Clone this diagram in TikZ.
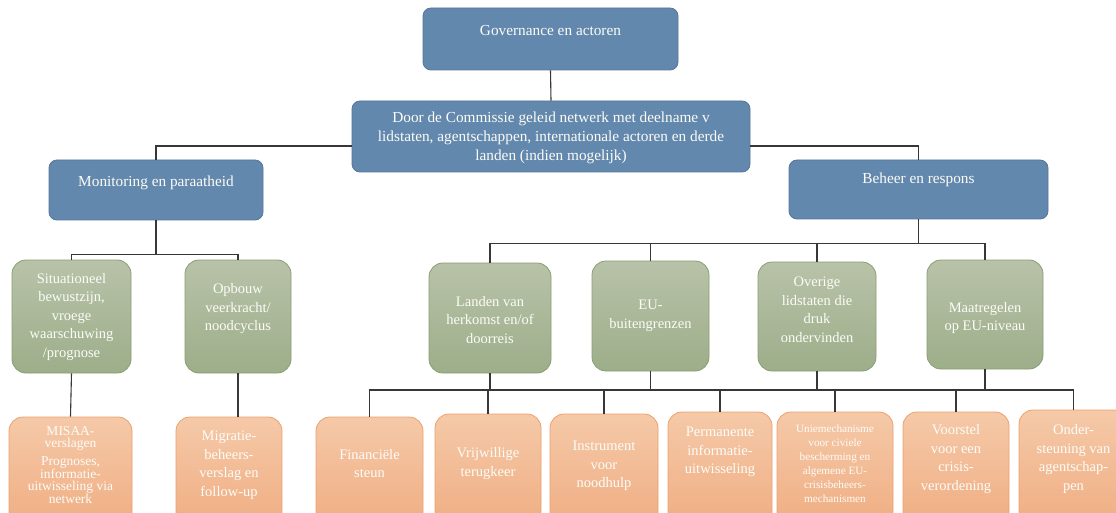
\documentclass[tikz,border=0pt]{standalone}
\usepackage{fontspec}
\setmainfont{Liberation Serif}
\definecolor{blueF}{RGB}{99,136,173}
\definecolor{blueB}{RGB}{86,118,152}
\definecolor{greenT}{RGB}{184,194,168}
\definecolor{greenBo}{RGB}{157,174,138}
\definecolor{greenB}{RGB}{138,158,116}
\definecolor{orT}{RGB}{245,201,168}
\definecolor{orBo}{RGB}{239,171,127}
\definecolor{orB}{RGB}{238,160,108}
\definecolor{lineC}{RGB}{55,55,55}
\definecolor{txtC}{RGB}{252,252,248}
\begin{document}
\begin{tikzpicture}[x=1pt,y=-1pt,
  bluebox/.style={draw=blueB, fill=blueF, rounded corners=8pt, line width=0.8pt, inner sep=0pt},
  greenbox/.style={draw=greenB, top color=greenT, bottom color=greenBo, rounded corners=14pt, line width=0.8pt, inner sep=0pt},
  orbox/.style={draw=orB, top color=orT, bottom color=orBo, rounded corners=14pt, line width=0.8pt, inner sep=0pt},
  txt/.style={text=txtC, align=center, font=\fontsize{14.5}{18.5}\selectfont, inner sep=0pt},
  bluetxt/.style={text=txtC, align=center, font=\fontsize{15.3}{19}\selectfont, inner sep=0pt},
  smalltxt/.style={text=txtC, align=center, font=\fontsize{11.2}{14}\selectfont, inner sep=0pt},
  tighttxt/.style={text=txtC, align=center, font=\fontsize{13.5}{12}\selectfont, inner sep=0pt},
  conn/.style={draw=lineC, line width=1.1pt}]
\path[use as bounding box, clip] (0,0) rectangle (1116,513);
\fill[white] (0,0) rectangle (1116,513);

% level 0/1 blue boxes
\node[bluebox, minimum width=255pt, minimum height=62pt] (gov) at (550.5,39) {};
\node[bluebox, minimum width=398pt, minimum height=71pt] (net) at (551,136.5) {};
\node[bluebox, minimum width=214pt, minimum height=60pt] (mon) at (156,190) {};
\node[bluebox, minimum width=259pt, minimum height=59pt] (beh) at (918.5,189.5) {};

\node[bluetxt] (govt) at (550.5,31) {Governance en actoren};
\node[bluetxt] (nett) at (551,138) {Door de Commissie geleid netwerk met deelname v\\lidstaten, agentschappen, internationale actoren en derde\\landen (indien mogelijk)};
\node[bluetxt] (mont) at (156,183) {Monitoring en paraatheid};
\node[bluetxt] (beht) at (918.5,180) {Beheer en respons};

% level 2 green boxes
\node[greenbox, minimum width=119pt, minimum height=113pt] (sit) at (71.5,316.5) {};
\node[greenbox, minimum width=106pt, minimum height=113pt] (opb) at (238,316.5) {};
\node[greenbox, minimum width=122pt, minimum height=110pt] (lan) at (490,318) {};
\node[greenbox, minimum width=117pt, minimum height=110pt] (eu) at (650.5,316) {};
\node[greenbox, minimum width=118pt, minimum height=109pt] (ove) at (817,316.5) {};
\node[greenbox, minimum width=116pt, minimum height=109pt] (maa) at (985,314.5) {};

\node[txt] (sitt) at (71.5,317) {Situationeel\\bewustzijn,\\vroege\\waarschuwing\\/prognose};
\node[txt] (opbt) at (238,309) {Opbouw\\veerkracht/\\noodcyclus};
\node[txt] (lant) at (490,320) {Landen van\\herkomst en/of\\doorreis};
\node[txt] (eut) at (650.5,316) {EU-\\buitengrenzen};
\node[txt] (ovet) at (817,310) {Overige\\lidstaten die\\druk\\ondervinden};
\node[txt] (maat) at (985,318) {Maatregelen\\op EU-niveau};

% level 3 orange boxes
\node[orbox, minimum width=123pt, minimum height=120pt] (mis) at (70.5,477) {};
\node[orbox, minimum width=106pt, minimum height=120pt] (mig) at (229,477) {};
\node[orbox, minimum width=107pt, minimum height=120pt] (fin) at (369.5,477) {};
\node[orbox, minimum width=106pt, minimum height=123pt] (vri) at (488,475.5) {};
\node[orbox, minimum width=108pt, minimum height=123pt] (ins) at (604,475.5) {};
\node[orbox, minimum width=104pt, minimum height=125pt] (per) at (720,474.5) {};
\node[orbox, minimum width=116pt, minimum height=125pt] (uni) at (835,474.5) {};
\node[orbox, minimum width=106pt, minimum height=125pt] (voo) at (956,474.5) {};
\node[orbox, minimum width=109pt, minimum height=127pt] (ond) at (1073.5,473.5) {};

\node[tighttxt] (mist) at (70.5,465) {MISAA-\\verslagen\\[6pt]Prognoses,\\informatie-\\uitwisseling via\\netwerk};
\node[txt] (migt) at (229,465) {Migratie-\\beheers-\\verslag en\\follow-up};
\node[txt] (fint) at (369.5,463.5) {Financiële\\steun};
\node[txt] (vrit) at (488,463.5) {Vrijwillige\\terugkeer};
\node[txt] (inst) at (604,466) {Instrument\\voor\\noodhulp};
\node[txt] (pert) at (720,452) {Permanente\\informatie-\\uitwisseling};
\node[smalltxt] (unit) at (835,464) {Uniemechanisme\\voor civiele\\bescherming en\\algemene EU-\\crisisbeheers-\\mechanismen};
\node[txt] (voot) at (956,459) {Voorstel\\voor een\\crisis-\\verordening};
\node[txt] (ondt) at (1073.5,459) {Onder-\\steuning van\\agentschap-\\pen};

% connectors
\draw[conn] (gov.south) -- (net.north);
\draw[conn] ([yshift=-9.5pt]net.west) -| (mon.north);
\draw[conn] ([yshift=-9.5pt]net.east) -| (beh.north);
\draw[conn] (mon.south) -- ++(0,34) coordinate (mbus);
\draw[conn] (sit.north) |- (mbus) -| (opb.north);
\draw[conn] (beh.south) -- ++(0,24) coordinate (bbus);
\draw[conn] (lan.north) |- (bbus) -| (maa.north);
\draw[conn] (eu.north) -- (eu.north |- bbus);
\draw[conn] (ove.north) -- (ove.north |- bbus);
\coordinate (obus) at (0,390);
\draw[conn] (lan.south) -- (lan.south |- obus);
\draw[conn] (eu.south) -- (eu.south |- obus);
\draw[conn] (ove.south) -- (ove.south |- obus);
\draw[conn] (maa.south) -- (maa.south |- obus);
\draw[conn] (fin.north) |- (obus -| ond.north) -- (ond.north);
\draw[conn] (vri.north) -- (vri.north |- obus);
\draw[conn] (ins.north) -- (ins.north |- obus);
\draw[conn] (per.north) -- (per.north |- obus);
\draw[conn] (uni.north) -- (uni.north |- obus);
\draw[conn] (voo.north) -- (voo.north |- obus);
\draw[conn] (sit.south) -- (mis.north);
\draw[conn] (opb.south) -- (opb.south |- mig.north);
\end{tikzpicture}
\end{document}
